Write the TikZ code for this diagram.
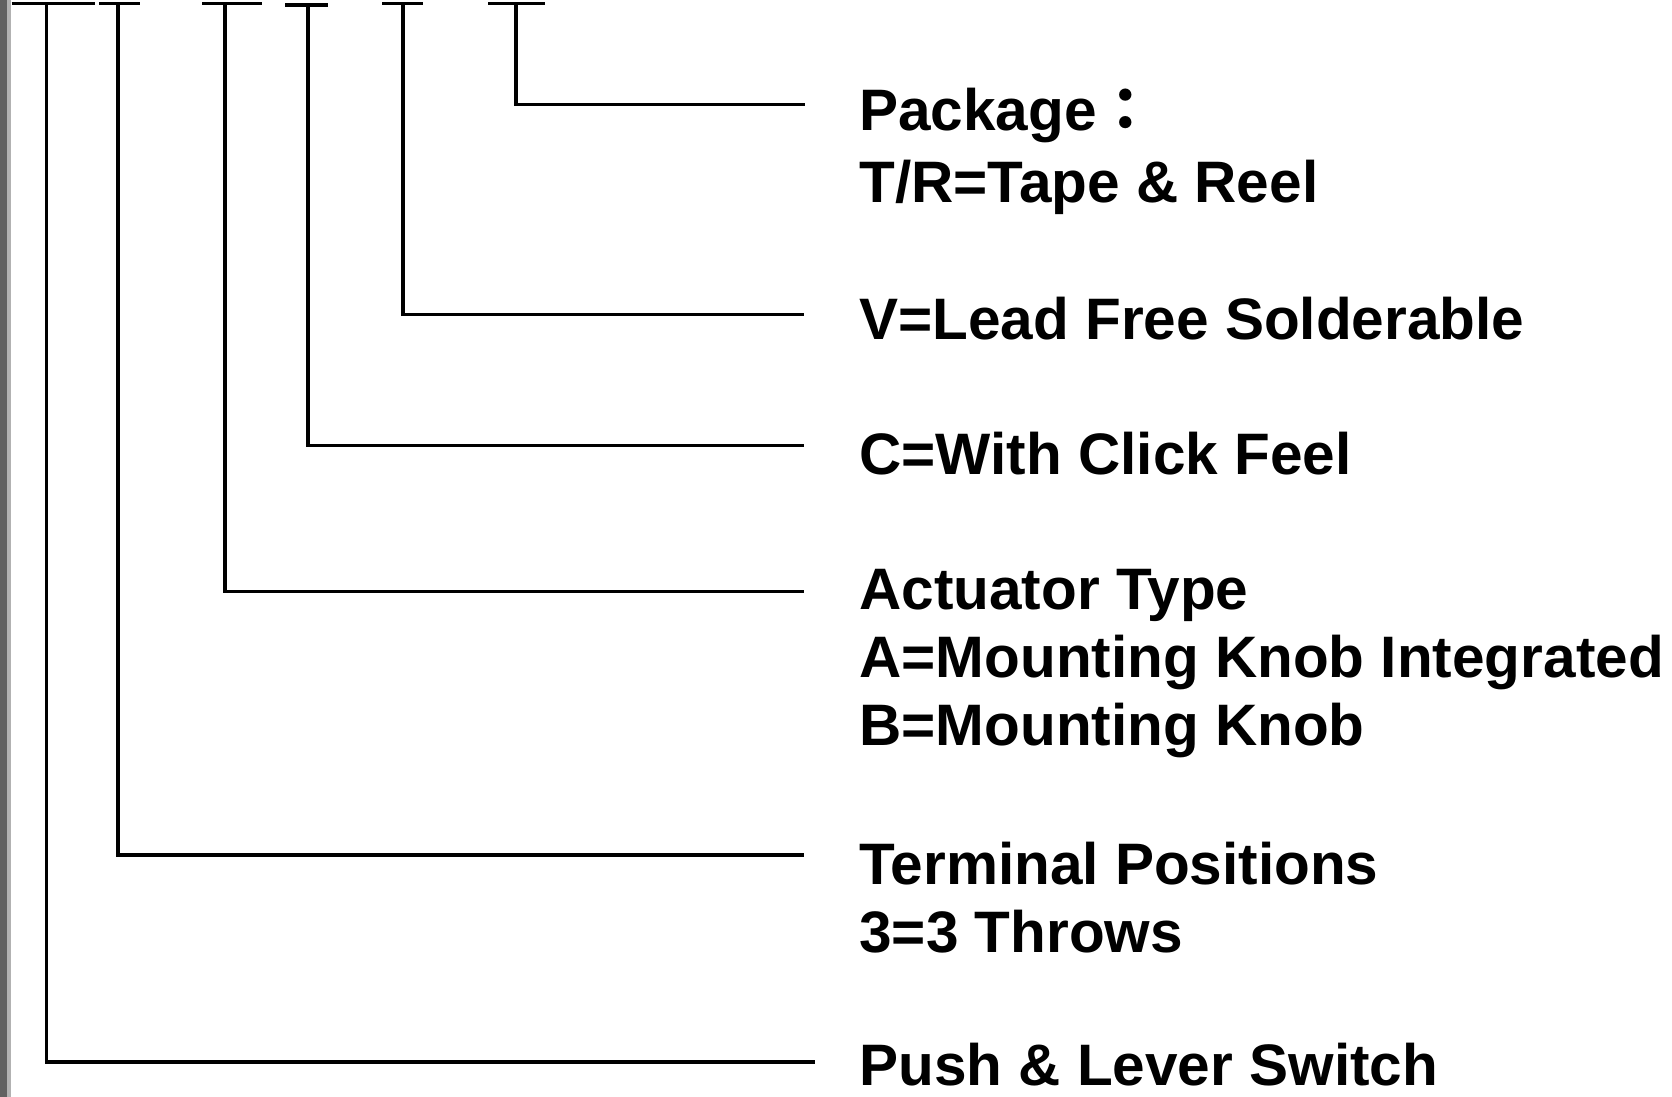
\documentclass[tikz,border=0pt]{standalone}
\usepackage{fontspec}
\setmainfont{Liberation Sans}
\newfontfamily\cjk{Noto Sans CJK TC}
\usetikzlibrary{positioning}
\tikzset{
    % lead lines from the code digits to the notes
    leadline/.style={
        line width=1.8pt,
        black,
        line cap=rect
    },
    capbar/.style={
        line width=1.8pt,
        black
    },
    notetext/.style={
        anchor=base west,
        inner sep=0pt,
        align=left,
        font=\fontsize{33.3}{38.6}\selectfont\bfseries
    }
}
\begin{document}
\begin{tikzpicture}[x=0.02cm,y=-0.02cm]
\useasboundingbox (0,0) rectangle (1672,1097);

% left border
\fill[black!62] (0,0) rectangle (7,1097);
\fill[black!30] (7,0) rectangle (11,1097);

% top of each lead line
\path
    (46.7,3.5) coordinate (t1)
    (118,3.5) coordinate (t2)
    (225,3.5) coordinate (t3)
    (308,5) coordinate (t4)
    (403,3.5) coordinate (t5)
    (516,3.5) coordinate (t6)
    (813,1062) coordinate (e1)
    (802,855) coordinate (e2)
    (802,591.8) coordinate (e3)
    (802,445.7) coordinate (e4)
    (802,314.6) coordinate (e5)
    (803,104.5) coordinate (e6)
    ;

% short bars
\draw[capbar] (11.7,3.5) -- (95,3.5);
\draw[capbar] (99,3.5) -- (140,3.5);
\draw[capbar] (202,3.5) -- (262,3.5);
\draw[capbar] (285,5) -- (328,5);
\draw[capbar] (382,3.5) -- (423,3.5);
\draw[capbar] (488,3.5) -- (545,3.5);

% notes (base = last line)
\node[notetext] (n6) at (859,203) {Package\cjk{：}\\[0.1cm]T/R=Tape \& Reel};
\node[notetext] (n5) at (859,340) {V=Lead Free Solderable};
\node[notetext] (n4) at (859,475) {C=With Click Feel};
\node[notetext] (n3) at (859,745) {Actuator Type\\A=Mounting Knob Integrated\\B=Mounting Knob};
\node[notetext] (n2) at (859,952) {Terminal Positions\\3=3 Throws};
\node[notetext] (n1) at (859,1085) {Push \& Lever Switch};

% lead lines
\foreach \i in {1,...,6}
    \draw[leadline] (t\i) |- (e\i);

\end{tikzpicture}
\end{document}
